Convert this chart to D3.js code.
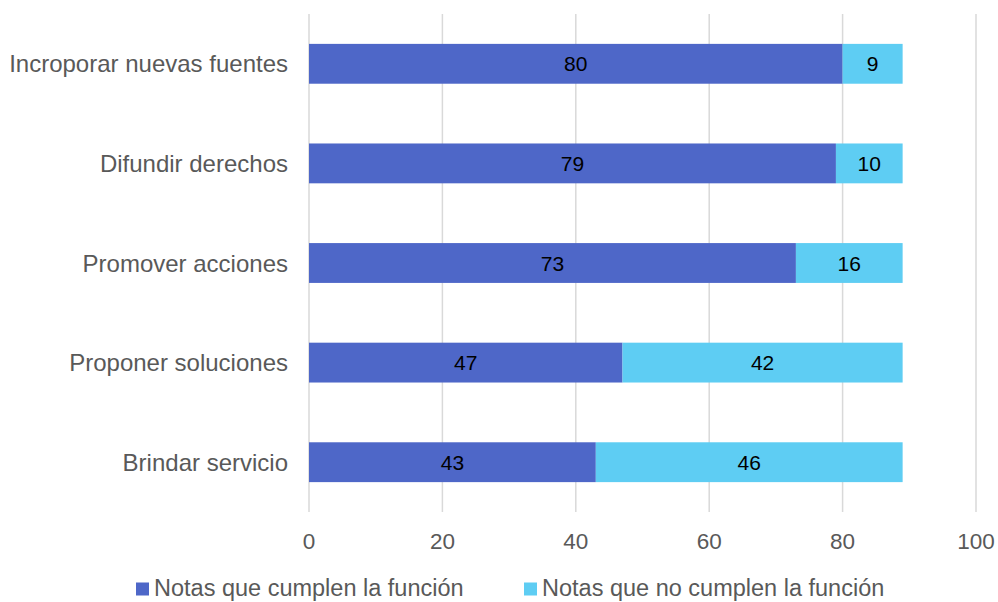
<!DOCTYPE html>
<html>
<head>
<meta charset="utf-8">
<script src="https://cdn.jsdelivr.net/npm/d3@7"></script>
<style>
  html, body { margin: 0; padding: 0; background: #fff; }
  svg { display: block; font-family: "Liberation Sans", Arial, sans-serif; }
</style>
</head>
<body>
<svg id="chart" width="998" height="602"></svg>
<script>
// Categories (top to bottom) and the two stacked series
const categories = [
  "Incroporar nuevas fuentes",
  "Difundir derechos",
  "Promover acciones",
  "Proponer soluciones",
  "Brindar servicio"
];
const cumplen = [80, 79, 73, 47, 43];
const noCumplen = [9, 10, 16, 42, 46];
const seriesNames = ["Notas que cumplen la función", "Notas que no cumplen la función"];
const seriesColors = ["#4e67c8", "#5ecdf3"];
const xTicks = [0, 20, 40, 60, 80, 100];

const svg = d3.select("#chart");
const margin = { left: 309, right: 22, top: 14, bottom: 90 };
const width = 998, height = 602;

const x = d3.scaleLinear().domain([0, 100]).range([margin.left, width - margin.right]);
const y = d3.scaleBand().domain(categories).range([margin.top, height - margin.bottom]).paddingInner(0.6).paddingOuter(0.3);

// vertical gridlines
svg.append("g")
  .selectAll("line")
  .data(xTicks)
  .join("line")
  .attr("x1", d => x(d)).attr("x2", d => x(d))
  .attr("y1", margin.top).attr("y2", height - margin.bottom)
  .attr("stroke", "#d9d9d9")
  .attr("stroke-width", 1.5);

// stacked data
const rows = categories.map((c, i) => ({ cat: c, cumplen: cumplen[i], noCumplen: noCumplen[i] }));
const stack = d3.stack().keys(["cumplen", "noCumplen"])(rows);

const layers = svg.append("g")
  .selectAll("g")
  .data(stack)
  .join("g")
  .attr("fill", (d, i) => seriesColors[i]);

layers.selectAll("rect")
  .data(d => d)
  .join("rect")
  .attr("x", d => x(d[0]))
  .attr("width", d => x(d[1]) - x(d[0]))
  .attr("y", d => y(d.data.cat))
  .attr("height", y.bandwidth());

// value labels centred in each segment
layers.selectAll("text")
  .data(d => d)
  .join("text")
  .attr("x", d => (x(d[0]) + x(d[1])) / 2)
  .attr("y", d => y(d.data.cat) + y.bandwidth() / 2)
  .attr("dy", "0.36em")
  .attr("text-anchor", "middle")
  .attr("fill", "#000")
  .attr("font-size", 21)
  .text(d => d[1] - d[0]);

// category axis labels
svg.append("g")
  .selectAll("text")
  .data(categories)
  .join("text")
  .attr("x", 288)
  .attr("y", d => y(d) + y.bandwidth() / 2)
  .attr("dy", "0.36em")
  .attr("text-anchor", "end")
  .attr("fill", "#595959")
  .attr("font-size", 24)
  .text(d => d);

// value axis tick labels
svg.append("g")
  .selectAll("text")
  .data(xTicks)
  .join("text")
  .attr("x", d => x(d))
  .attr("y", 541)
  .attr("dy", "0.36em")
  .attr("text-anchor", "middle")
  .attr("fill", "#595959")
  .attr("font-size", 22.5)
  .text(d => d);

// legend along the bottom edge
const legendX = [136, 524];
const legend = svg.append("g")
  .selectAll("g")
  .data(seriesNames)
  .join("g")
  .attr("transform", (d, i) => `translate(${legendX[i]},587.5)`);
legend.append("rect")
  .attr("x", 0).attr("y", -5)
  .attr("width", 13).attr("height", 13)
  .attr("fill", (d, i) => seriesColors[i]);
legend.append("text")
  .attr("x", 18)
  .attr("dy", "0.36em")
  .attr("fill", "#595959")
  .attr("font-size", 23.5)
  .text(d => d);
</script>
</body>
</html>
